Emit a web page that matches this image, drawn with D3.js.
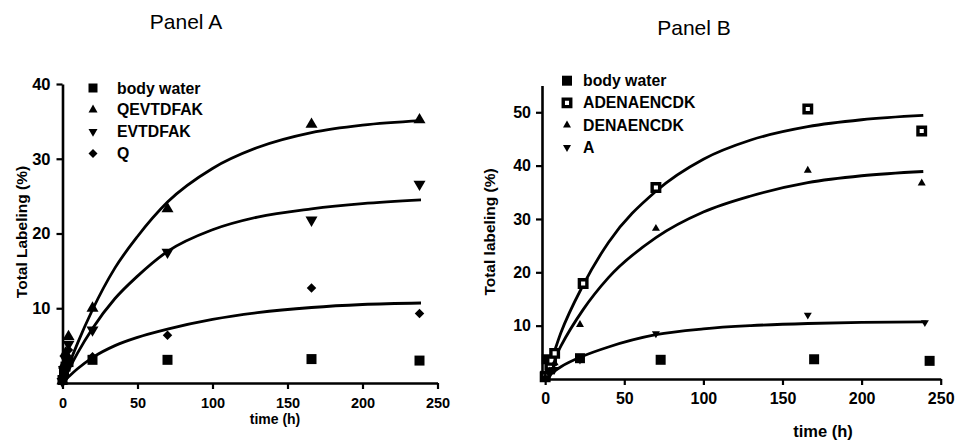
<!DOCTYPE html>
<html>
<head>
<meta charset="utf-8">
<script src="https://cdn.jsdelivr.net/npm/d3@7"></script>
<style>
  body { margin: 0; background: #fff; }
  text { font-family: "Liberation Sans", Arial, sans-serif; fill: #000; }
</style>
</head>
<body>
<div id="viz"></div>
<script>
// size of the picture
const width = 956
const height = 442

// ---- panel A data, [time (h), labeling (%)]
const aWater = [[0,0.4],[1,1.4],[2,2.2],[4,2.8],[20,3.1],[70,3.1],[166,3.2],[238,3.0]]
const aQEVTDFAK = [[0,0.3],[1,2.4],[2,4.0],[4,6.2],[20,10.0],[70,23.3],[166,34.6],[238,35.2]]
const aEVTDFAK = [[0,0.2],[1,1.8],[2,3.2],[4,5.2],[20,7.1],[70,17.5],[166,21.8],[238,26.6]]
const aQ = [[0,0.2],[1,1.2],[2,2.4],[4,4.4],[20,3.5],[70,6.4],[166,12.7],[238,9.3]]
// fitted curves of panel A, read at a few times
const aFitQEVTDFAK = [[0,0],[5,2.8],[10,5.3],[20,9.8],[35,15.4],[50,19.6],[70,24.2],[100,28.7],[130,31.5],[166,33.5],[200,34.5],[239,35.1]]
const aFitEVTDFAK = [[0,0],[5,2.1],[10,4.0],[20,7.3],[35,11.3],[50,14.3],[70,17.6],[100,20.5],[130,22.2],[166,23.3],[200,24.0],[239,24.5]]
const aFitQ = [[0,0],[5,1.0],[10,1.9],[20,3.4],[35,5.0],[50,6.1],[70,7.2],[100,8.5],[130,9.4],[166,10.1],[200,10.5],[239,10.7]]

// ---- panel B data
const bWater = [[0,0.6],[1,3.7],[3,1.8],[4,3.4],[22,3.9],[73,3.6],[170,3.7],[243,3.4]]
const bADENAENCDK = [[0,0.4],[3,2.6],[4,3.5],[6,4.8],[24,17.9],[70,35.9],[166,50.6],[238,46.5]]
const bDENAENCDK = [[0,0.3],[3,1.5],[6,3.0],[22,10.2],[70,28.2],[166,39.1],[238,36.7]]
const bA = [[0,0.2],[3,0.9],[6,1.8],[22,3.6],[70,8.5],[166,12.0],[240,10.6]]
const bFitADENAENCDK = [[-1,0],[5,4.5],[10,8.7],[24,17.6],[40,25.6],[70,35.2],[100,41.2],[130,44.8],[166,47.3],[200,48.6],[239,49.4]]
const bFitDENAENCDK = [[-1,0],[5,3.2],[10,6.2],[24,13.0],[40,19.0],[70,26.5],[100,31.3],[130,34.3],[166,36.8],[200,38.1],[239,38.9]]
const bFitA = [[-1,0],[5,1.3],[10,2.3],[24,4.3],[40,6.0],[70,8.3],[100,9.4],[130,10.0],[166,10.4],[200,10.6],[241,10.7]]

// tick values
const xTicks = [0, 50, 100, 150, 200, 250]
const aYTicks = [10, 20, 30, 40]
const bYTicks = [10, 20, 30, 40, 50]

const svg = d3.select("#viz")
    .append("svg")
    .attr("width", width)
    .attr("height", height)

// marker shapes
function markerPath(shape, s) {
    if (shape == "square" || shape == "open") return d3.symbol(d3.symbolSquare, s * s)()
    if (shape == "diamond") return d3.symbol(d3.symbolSquare, s * s / 2)()
    // equilateral triangle with width s
    return d3.symbol(d3.symbolTriangle, s * s * Math.sqrt(3) / 4)()
}

function drawMarker(g, shape, x, y, s) {
    const p = g.append("path")
        .attr("d", markerPath(shape, s))
        .attr("fill", "#000")
    let tr = "translate(" + x + "," + y + ")"
    if (shape == "down") tr += "rotate(180)"
    if (shape == "diamond") tr += "rotate(45)"
    if (shape == "open") {
        p.attr("fill", "#fff")
            .attr("stroke", "#000")
            .attr("stroke-width", 3.4)
    }
    p.attr("transform", tr)
}

function drawPanel(cfg) {
    const x = d3.scaleLinear().domain(cfg.xDomain).range(cfg.xRange)
    const y = d3.scaleLinear().domain(cfg.yDomain).range(cfg.yRange)
    const g = svg.append("g")

    // title
    g.append("text")
        .attr("x", cfg.title[1]).attr("y", cfg.title[2])
        .attr("text-anchor", "middle")
        .attr("font-size", 21)
        .text(cfg.title[0])

    // x axis
    const xAxis = g.append("g")
        .attr("transform", "translate(0," + cfg.yRange[0] + ")")
        .call(d3.axisBottom(x).tickValues(xTicks).tickSize(6).tickPadding(cfg.xPad).tickSizeOuter(0))
    xAxis.select(".domain").attr("stroke-width", 2.6)
    xAxis.selectAll(".tick line").attr("stroke-width", 2.2)
    xAxis.selectAll(".tick text")
        .attr("font-size", cfg.xFont).attr("font-weight", "bold")
        .attr("font-family", "Liberation Sans, Arial, sans-serif")

    // y axis
    const yAxis = g.append("g")
        .attr("transform", "translate(" + cfg.xRange[0] + ",0)")
        .call(d3.axisLeft(y).tickValues(cfg.yTicks).tickSize(6).tickPadding(cfg.yPad).tickSizeOuter(0))
    yAxis.select(".domain").attr("stroke-width", 2.6)
    yAxis.selectAll(".tick line").attr("stroke-width", 2.2)
    yAxis.selectAll(".tick text")
        .attr("font-size", cfg.yFont).attr("font-weight", "bold")
        .attr("font-family", "Liberation Sans, Arial, sans-serif")

    // axis labels
    g.append("text")
        .attr("x", cfg.xLabel[1]).attr("y", cfg.xLabel[2])
        .attr("text-anchor", "middle")
        .attr("font-size", cfg.xLabelFont).attr("font-weight", "bold")
        .text(cfg.xLabel[0])
    g.append("text")
        .attr("transform", "translate(" + cfg.yLabel[1] + "," + cfg.yLabel[2] + ")rotate(-90)")
        .attr("text-anchor", "middle")
        .attr("dominant-baseline", "central")
        .attr("font-size", 15.5).attr("font-weight", "bold")
        .text(cfg.yLabel[0])

    // fitted curves
    const line = d3.line()
        .x(function(d) { return x(d[0]) })
        .y(function(d) { return y(d[1]) })
        .curve(d3.curveMonotoneX)
    cfg.fits.forEach(function(f) {
        g.append("path")
            .attr("d", line(f))
            .attr("fill", "none")
            .attr("stroke", "#000")
            .attr("stroke-width", 2.8)
    })

    // points
    cfg.series.forEach(function(s) {
        s.data.forEach(function(d) {
            drawMarker(g, s.shape, x(d[0]), y(d[1]), s.size)
        })
    })

    // legend
    cfg.series.forEach(function(s, i) {
        const ly = cfg.legend[1] + i * cfg.legend[2]
        drawMarker(g, s.shape, cfg.legend[0], ly, s.legendSize)
        g.append("text")
            .attr("x", cfg.legend[0] + cfg.legend[3]).attr("y", ly)
            .attr("dominant-baseline", "central")
            .attr("font-size", 15.8).attr("font-weight", "bold")
            .text(s.name)
    })
}

drawPanel({
    title: ["Panel A", 186, 29],
    xDomain: [0, 250], xRange: [62.5, 437.5],
    yDomain: [0, 40], yRange: [383, 84],
    yTicks: aYTicks, xFont: 14.5, yFont: 16.5, xPad: 9, yPad: 6,
    xLabel: ["time (h)", 275, 424], xLabelFont: 14,
    yLabel: ["Total Labeling (%)", 21, 232],
    legend: [93, 88, 21.8, 24],
    fits: [aFitQEVTDFAK, aFitEVTDFAK, aFitQ],
    series: [
        {name: "body water", data: aWater, shape: "square", size: 10, legendSize: 9},
        {name: "QEVTDFAK", data: aQEVTDFAK, shape: "up", size: 12, legendSize: 9},
        {name: "EVTDFAK", data: aEVTDFAK, shape: "down", size: 12, legendSize: 9},
        {name: "Q", data: aQ, shape: "diamond", size: 9.5, legendSize: 9}
    ]
})

drawPanel({
    title: ["Panel B", 694, 35],
    xDomain: [-2, 250], xRange: [542, 940.7],
    yDomain: [0, 55], yRange: [379, 85.6],
    yTicks: bYTicks, xFont: 16, yFont: 16, xPad: 8, yPad: 5,
    xLabel: ["time (h)", 823, 437], xLabelFont: 16.5,
    yLabel: ["Total labeling (%)", 489, 232],
    legend: [567, 80.7, 22.2, 16],
    fits: [bFitADENAENCDK, bFitDENAENCDK, bFitA],
    series: [
        {name: "body water", data: bWater, shape: "square", size: 10, legendSize: 10},
        {name: "ADENAENCDK", data: bADENAENCDK, shape: "open", size: 7.5, legendSize: 7.5},
        {name: "DENAENCDK", data: bDENAENCDK, shape: "up", size: 8, legendSize: 8},
        {name: "A", data: bA, shape: "down", size: 8, legendSize: 8}
    ]
})
</script>
</body>
</html>
